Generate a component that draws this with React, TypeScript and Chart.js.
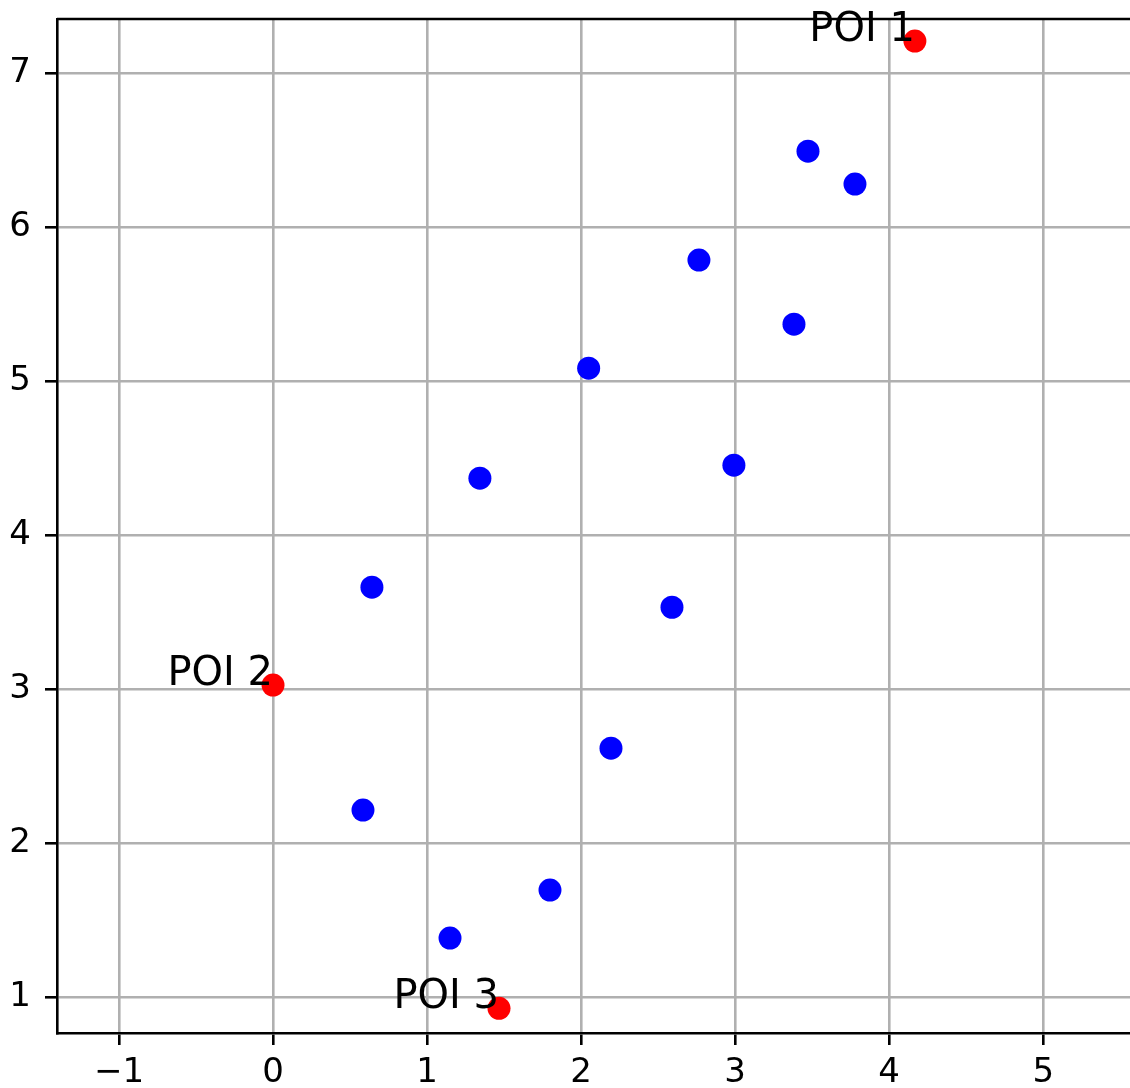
import React, { useEffect, useRef } from "react";
import { Chart, registerables } from "chart.js";

Chart.register(...registerables);

// Blue scatter points
const blueX = [3.473, 3.778, 2.765, 3.382, 2.049, 2.992, 1.343, 0.642, 2.59, 2.194, 0.584, 1.798, 1.149];
const blueY = [6.495, 6.281, 5.788, 5.372, 5.086, 4.456, 4.372, 3.664, 3.534, 2.619, 2.217, 1.698, 1.386];

// Points of interest (red)
const poiLabels = ["POI 1", "POI 2", "POI 3"];
const poiX = [4.167, 0.0, 1.467];
const poiY = [7.21, 3.029, 0.93];

// Axis ticks
const xTicks = [-1, 0, 1, 2, 3, 4, 5];
const yTicks = [1, 2, 3, 4, 5, 6, 7];

const X_MIN = -1.4025;
const X_MAX = 5.5635;
const Y_MIN = 0.77;
const Y_MAX = 7.353;

const FONT = "'DejaVu Sans', sans-serif";
const GRID = "#b0b0b0";
const LW = 2.6;

const fmt = (v: number) => String(v).replace("-", "\u2212");

const noPad = (s: any) => {
  s.paddingTop = 0;
  s.paddingBottom = 0;
  s.paddingLeft = 0;
  s.paddingRight = 0;
};

// Top spine (the right spine lies outside the visible figure)
const framePlugin = {
  id: "frame",
  beforeDatasetsDraw(chart: any) {
    const { ctx, chartArea } = chart;
    ctx.save();
    ctx.strokeStyle = "#000";
    ctx.lineWidth = LW;
    ctx.beginPath();
    ctx.moveTo(chartArea.left, chartArea.top);
    ctx.lineTo(chartArea.right + 10, chartArea.top);
    ctx.stroke();
    ctx.restore();
  },
};

const labelPlugin = {
  id: "poiLabels",
  afterDraw(chart: any) {
    const { ctx } = chart;
    const xs = chart.scales.x;
    const ys = chart.scales.y;
    ctx.save();
    ctx.fillStyle = "#000";
    ctx.font = `40px ${FONT}`;
    ctx.textAlign = "right";
    ctx.textBaseline = "alphabetic";
    poiLabels.forEach((t, i) => {
      ctx.fillText(t, xs.getPixelForValue(poiX[i]), ys.getPixelForValue(poiY[i]));
    });
    ctx.restore();
  },
};

export default function App() {
  const ref = useRef<HTMLCanvasElement | null>(null);

  useEffect(() => {
    if (!ref.current) return;
    const chart = new Chart(ref.current, {
      type: "scatter",
      data: {
        datasets: [
          {
            label: "points",
            data: blueX.map((x, i) => ({ x, y: blueY[i] })),
            backgroundColor: "#0000ff",
            pointBackgroundColor: "#0000ff",
            pointRadius: 11.5,
            pointBorderWidth: 0,
            order: 2,
          },
          {
            label: "POI",
            data: poiX.map((x, i) => ({ x, y: poiY[i] })),
            backgroundColor: "#ff0000",
            pointBackgroundColor: "#ff0000",
            pointRadius: 11.5,
            pointBorderWidth: 0,
            order: 1,
          },
        ],
      },
      options: {
        responsive: false,
        animation: false,
        devicePixelRatio: 1,
        layout: { autoPadding: false, padding: { left: 0, top: 19, right: 0, bottom: 0 } },
        plugins: { legend: { display: false }, tooltip: { enabled: false } },
        scales: {
          x: {
            type: "linear",
            min: X_MIN,
            max: X_MAX,
            afterBuildTicks: (s: any) => {
              s.ticks = xTicks.map((v) => ({ value: v }));
            },
            afterFit: (s: any) => {
              s.height = 55;
              noPad(s);
            },
            grid: { color: GRID, lineWidth: LW, tickColor: "#000", tickLength: 12, tickWidth: LW },
            border: { display: true, color: "#000", width: LW },
            ticks: {
              color: "#000",
              font: { family: FONT, size: 34 },
              padding: 8,
              maxRotation: 0,
              callback: (v: any) => fmt(Number(v)),
            },
          },
          y: {
            type: "linear",
            min: Y_MIN,
            max: Y_MAX,
            afterBuildTicks: (s: any) => {
              s.ticks = yTicks.map((v) => ({ value: v }));
            },
            afterFit: (s: any) => {
              s.width = 57;
              noPad(s);
            },
            grid: { color: GRID, lineWidth: LW, tickColor: "#000", tickLength: 12, tickWidth: LW },
            border: { display: true, color: "#000", width: LW },
            ticks: {
              color: "#000",
              font: { family: FONT, size: 34 },
              padding: 14,
              callback: (v: any) => fmt(Number(v)),
            },
          },
        },
      },
      plugins: [framePlugin, labelPlugin],
    });
    return () => chart.destroy();
  }, []);

  return (
    <div
      style={{
        position: "fixed",
        left: 0,
        top: 0,
        width: 1130,
        height: 1088,
        overflow: "hidden",
        background: "#fff",
      }}
    >
      <canvas
        ref={ref}
        width={1130}
        height={1088}
        style={{ display: "block", width: 1130, height: 1088 }}
      />
    </div>
  );
}
